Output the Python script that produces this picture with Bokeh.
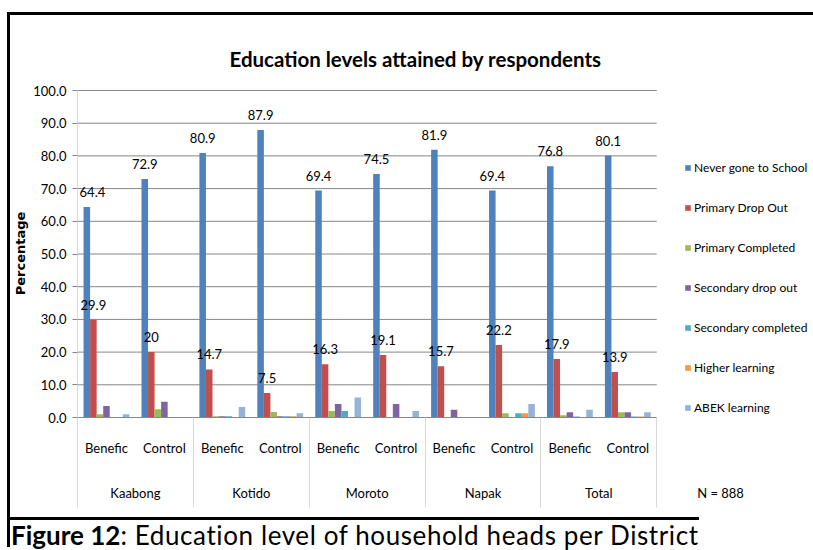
from bokeh.plotting import figure
from bokeh.layouts import column, row
from bokeh.models import (Range1d, LinearAxis, FixedTicker, Legend, LegendItem,
                          ColumnDataSource, NumeralTickFormatter, Div)
from bokeh.embed import file_html
from bokeh.resources import INLINE
from bokeh.core.properties import value

# ---- data -------------------------------------------------------------
districts = ["Kaabong", "Kotido", "Moroto", "Napak", "Total"]
groups = ["Benefic", "Control"]
series_names = ["Never gone to School", "Primary Drop Out", "Primary Completed",
                "Secondary drop out", "Secondary completed", "Higher learning",
                "ABEK learning"]
series_colors = ["#4F81BD", "#C0504D", "#9BBB59", "#8064A2", "#4BACC6", "#F79646", "#95B3D7"]

# one value per (district, group), in district order, Benefic then Control
never_gone = [64.4, 72.9, 80.9, 87.9, 69.4, 74.5, 81.9, 69.4, 76.8, 80.1]
primary_drop_out = [29.9, 20, 14.7, 7.5, 16.3, 19.1, 15.7, 22.2, 17.9, 13.9]
primary_completed = [1.0, 2.5, 0.4, 1.7, 2.0, 0.0, 0.0, 1.3, 0.7, 1.6]
secondary_drop_out = [3.5, 4.8, 0.4, 0.4, 4.1, 4.1, 2.4, 0.0, 1.6, 1.6]
secondary_completed = [0.0, 0.0, 0.4, 0.4, 2.0, 0.0, 0.0, 1.3, 0.3, 0.3]
higher_learning = [0.0, 0.0, 0.0, 0.4, 0.0, 0.0, 0.0, 1.3, 0.0, 0.3]
abek_learning = [1.0, 0.0, 3.2, 1.3, 6.1, 2.0, 0.0, 4.1, 2.4, 1.6]

series_values = [never_gone, primary_drop_out, primary_completed, secondary_drop_out,
                 secondary_completed, higher_learning, abek_learning]
labelled_series = [0, 1]  # series that carry value labels

y_ticks = list(range(0, 101, 10))
sample_note = "N = 888"
title_text = "Education levels attained by respondents"
y_label = "Percentage"
caption_bold = "Figure 12"
caption_rest = ": Education level of household heads per District"

# ---- geometry -----------------------------------------------------------
FONT = "Lato"
FIG_W, FIG_H = 803, 502
LEFT, TOP, BOTTOM = 61, 74, 100   # side panels for axes and title
PLOT_W = 584                      # width taken by the ten bar groups
PX_PER_PCT = 3.27
n_slots = len(districts) * len(groups)
px_per_slot = PLOT_W / n_slots
x_end = n_slots * (FIG_W - LEFT) / PLOT_W      # frame runs on to the right edge (legend room)
y_end = (FIG_H - TOP - BOTTOM) / PX_PER_PCT
slot_centers = [i + 0.5 for i in range(n_slots)]
bar_w = 0.113

p = figure(width=FIG_W, height=FIG_H, output_backend="svg", toolbar_location=None,
           x_range=Range1d(0, x_end), y_range=Range1d(0, y_end),
           x_axis_type=None, y_axis_type=None,
           min_border_left=LEFT, min_border_right=0, min_border_top=TOP,
           min_border_bottom=BOTTOM)
p.outline_line_color = None
p.background_fill_color = "white"
p.border_fill_color = "white"

p.title.text = title_text
p.title.align = "left"
p.title.offset = 152
p.title.standoff = 38
p.title.text_font = FONT
p.title.text_font_style = "bold"
p.title.text_font_size = "20.5px"
p.title.text_color = "black"

# horizontal gridlines across the bar area only
p.segment(x0=0, x1=n_slots, y0=y_ticks, y1=y_ticks, line_color="#868686", line_width=1)

# y axis
y_axis = LinearAxis(ticker=FixedTicker(ticks=y_ticks, minor_ticks=[]), bounds=(0, 100),
                    formatter=NumeralTickFormatter(format="0.0"),
                    axis_label=y_label,
                    axis_label_text_font="DejaVu Sans", axis_label_text_font_style="bold",
                    axis_label_text_font_size="13px", axis_label_standoff=2,
                    axis_label_text_color="black",
                    major_label_text_font=FONT, major_label_text_font_size="13px",
                    major_label_text_color="black", major_label_standoff=6,
                    major_tick_out=5, major_tick_in=0, major_tick_line_color="#868686",
                    minor_tick_line_color=None, axis_line_color="#d9d9d9")
p.add_layout(y_axis, "left")

# lower level: Benefic / Control, long separators between districts
sub_ticker = FixedTicker(ticks=slot_centers, minor_ticks=[2 * i for i in range(len(districts) + 1)])
sub_axis = LinearAxis(ticker=sub_ticker, bounds=(0, n_slots),
                      major_label_overrides={c: groups[i % 2] for i, c in enumerate(slot_centers)},
                      major_label_text_font=FONT, major_label_text_font_size="13px",
                      major_label_text_color="black", major_label_standoff=-68,
                      major_tick_line_color=None, major_tick_out=0, major_tick_in=0,
                      minor_tick_out=90, minor_tick_in=0, minor_tick_line_color="#d9d9d9",
                      axis_line_color="#868686")
p.add_layout(sub_axis, "below")

# upper level: district names, with the sample size under the legend
dist_centers = [2 * i + 1 for i in range(len(districts))]
note_x = 11.1
dist_labels = {c: d for c, d in zip(dist_centers, districts)}
dist_labels[note_x] = sample_note
dist_axis = LinearAxis(ticker=FixedTicker(ticks=dist_centers + [note_x], minor_ticks=[]),
                       major_label_overrides=dist_labels,
                       major_label_text_font=FONT, major_label_text_font_size="13px",
                       major_label_text_color="black", major_label_standoff=26,
                       major_tick_out=0, major_tick_in=0,
                       major_tick_line_color=None, minor_tick_line_color=None,
                       axis_line_color=None)
p.add_layout(dist_axis, "below")

# ---- bars -------------------------------------------------------------
LABEL_PX = 13
legend_items = []
n_series = len(series_names)
for k, (name, color, vals) in enumerate(zip(series_names, series_colors, series_values)):
    xs = [c + (k - (n_series - 1) / 2) * bar_w for c in slot_centers]
    labels = [f"{v:g}" for v in vals]
    # nudge a label right when it would run past the value axis
    half = [0.5 * len(t) * 0.5 * LABEL_PX for t in labels]
    dx = [max(0.0, h + 2 - x * px_per_slot) for h, x in zip(half, xs)]
    src = ColumnDataSource(dict(x=xs, top=vals, label=labels, dx=dx))
    r = p.vbar(x="x", top="top", bottom=0, width=bar_w, source=src,
               fill_color=color, line_color=None)
    legend_items.append(LegendItem(label=name, renderers=[r]))
    if k in labelled_series:
        p.text(x="x", y="top", text="label", source=src, text_align="center",
               text_baseline="alphabetic", x_offset="dx", y_offset=-15,
               text_font=value(FONT), text_font_size=f"{LABEL_PX}px", text_color="black")

legend = Legend(items=legend_items, location=(607, 0), orientation="vertical",
                glyph_width=7, glyph_height=7, label_height=20, spacing=20,
                padding=0, margin=0, label_standoff=3,
                border_line_color=None, background_fill_alpha=0,
                label_text_font=FONT, label_text_font_size="12px",
                label_text_color="black")
p.add_layout(legend)

# ---- frame lines and caption --------------------------------------------
top_rule = Div(text='<div style="margin-left:7px;margin-top:12px;width:806px;height:3px;'
                    'background:black"></div>', width=813, height=15, margin=0)
left_rule = Div(text='<div style="margin-left:7px;width:3px;height:502px;background:black"></div>',
                width=10, height=FIG_H, margin=0)
caption = Div(text=('<div style="margin-left:7px;border-left:3px solid black;'
                    'border-top:3px solid black;height:30px;padding-left:1px;'
                    'font-family:Lato;font-size:26px;line-height:30px;white-space:nowrap;'
                    f'color:black"><b>{caption_bold}</b>'
                    f'<span style="letter-spacing:0.6px">{caption_rest}</span></div>'),
              width=813, height=33, margin=0)

page = column(top_rule, row(left_rule, p, spacing=0), caption, spacing=0)

open("out.html", "w").write(file_html(page, INLINE))
